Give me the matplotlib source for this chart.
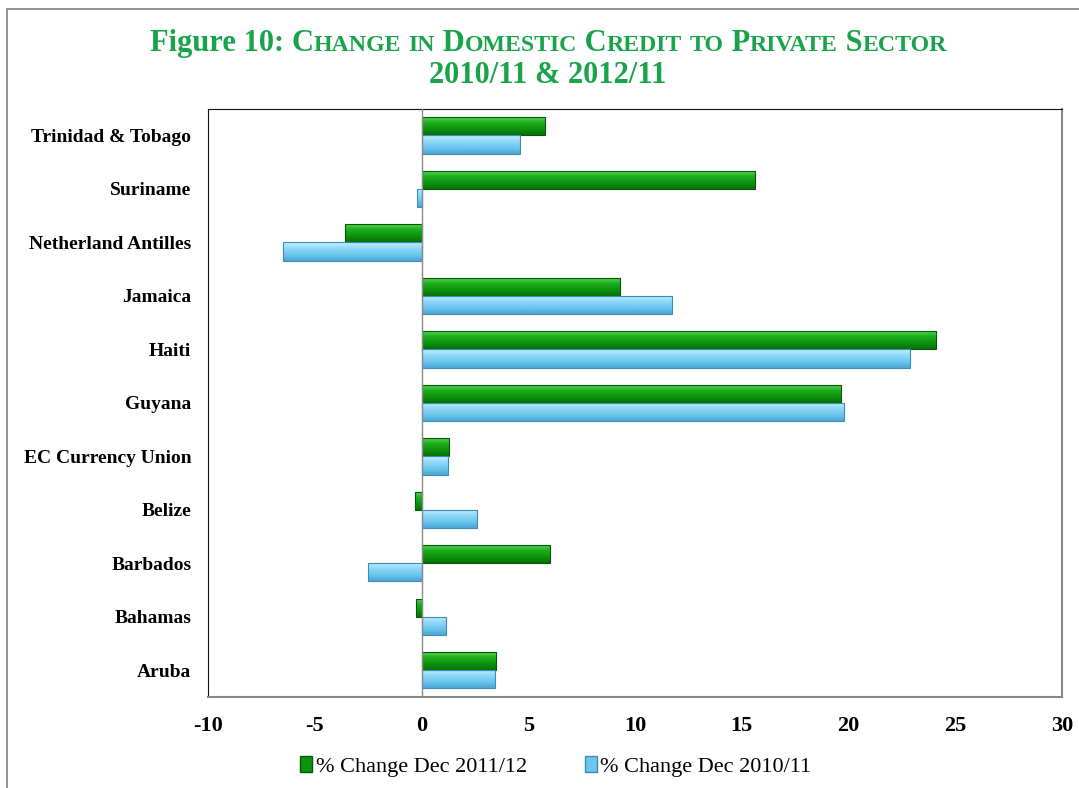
import matplotlib.pyplot as plt
import numpy as np
from matplotlib.patches import Rectangle
from matplotlib.colors import LinearSegmentedColormap

countries = ['Aruba', 'Bahamas', 'Barbados', 'Belize', 'EC Currency Union',
             'Guyana', 'Haiti', 'Jamaica', 'Netherland Antilles', 'Suriname',
             'Trinidad & Tobago']
chg_2011_12 = [3.5, -0.25, 6.0, -0.3, 1.3, 19.65, 24.1, 9.3, -3.6, 15.6, 5.8]
chg_2010_11 = [3.45, 1.15, -2.5, 2.6, 1.25, 19.8, 22.9, 11.75, -6.5, -0.2, 4.6]
xticks = [-10, -5, 0, 5, 10, 15, 20, 25, 30]

GREEN = ['#5fd85f', '#1fae1f', '#0c940c', '#077207']
BLUE = ['#c4f0ff', '#8fd8f8', '#6cc6ee', '#4ea6d2']
FONT = 'Liberation Serif'


def gradient_bar(ax, y, w, h, stops, edge):
    # vertical shading, light on top, dark on bottom
    x0, x1 = min(0, w), max(0, w)
    t = np.linspace(0, 1, 40)
    cmap = LinearSegmentedColormap.from_list('g', stops)
    img = ax.imshow(t[:, None], cmap=cmap, aspect='auto',
                    extent=(x0, x1, y - h / 2, y + h / 2), origin='upper',
                    zorder=2, interpolation='bilinear')
    r = Rectangle((x0, y - h / 2), x1 - x0, h, facecolor='none',
                  edgecolor=edge, lw=0.8, zorder=3)
    ax.add_patch(r)
    img.set_clip_path(r)


def small_caps(fig, words, x, y, size, color):
    # draw title with Word-style small capitals, centred at x
    runs = []
    for w, plain in words:
        if plain:
            runs.append((w, size))
        else:
            out = ''
            cur = None
            for ch in w:
                big = ch.isupper() or not ch.isalpha()
                s = size if big else size * 0.78
                if cur is None or s == cur:
                    out += ch.upper()
                else:
                    runs.append((out, cur))
                    out = ch.upper()
                cur = s
            if out:
                runs.append((out, cur))
    r = fig.canvas.get_renderer()
    texts = []
    widths = []
    for s, sz in runs:
        t = fig.text(0, y, s, fontsize=sz, color=color, fontweight='bold',
                     family=FONT, va='baseline', ha='left')
        bb = t.get_window_extent(renderer=r)
        texts.append(t)
        widths.append(bb.width / fig.bbox.width)
    total = sum(widths)
    cx = x - total / 2
    for t, w in zip(texts, widths):
        t.set_x(cx)
        cx += w


fig = plt.figure(figsize=(10.79, 7.88), dpi=100)
ax = fig.add_axes([0.1928, 0.1155, 0.7915, 0.7465])

y = np.arange(len(countries))
h = 0.34
for i in range(len(countries)):
    gradient_bar(ax, y[i] + h / 2, chg_2011_12[i], h, GREEN, '#055805')
    gradient_bar(ax, y[i] - h / 2, chg_2010_11[i], h, BLUE, '#3c8cb8')

ax.axvline(0, color='#8a8a8a', lw=1, zorder=4)
ax.set_xlim(-10, 30)
ax.set_ylim(-0.5, len(countries) - 0.5)
ax.set_xticks(xticks)
ax.set_xticklabels([str(v) for v in xticks], family=FONT,
                   fontsize=16, fontweight='bold')
ax.set_yticks(y)
ax.set_yticklabels(countries, family=FONT, fontsize=14, fontweight='bold')
ax.tick_params(length=0, pad=14)
ax.tick_params(axis='y', pad=12)
for side in ['top', 'left']:
    ax.spines[side].set_color('#111111')
for side in ['right', 'bottom']:
    ax.spines[side].set_color('#888888')
    ax.spines[side].set_linewidth(1.5)

# legend
handles = [Rectangle((0, 0), 1, 1, facecolor=GREEN[2], edgecolor='#055805'),
           Rectangle((0, 0), 1, 1, facecolor=BLUE[2], edgecolor='#3c8cb8')]
fig.legend(handles, ['% Change Dec 2011/12', '% Change Dec 2010/11'],
           loc='center', bbox_to_anchor=(0.515, 0.027), ncol=2, frameon=False,
           prop={'family': FONT, 'size': 16}, handlelength=0.55,
           handleheight=0.7, handletextpad=0.15, columnspacing=2.6)

# outer frame
fig.add_artist(Rectangle((7 / 1079, -0.01), 1.1, 1 - 9 / 788 + 0.01,
                         transform=fig.transFigure, fill=False,
                         edgecolor='#808080', lw=1.2))

green_title = '#19a34a'
small_caps(fig, [('Figure 10: ', True), ('Change in Domestic Credit to Private Sector', False)],
           0.508, 1 - 51 / 788, 22, green_title)
small_caps(fig, [('2010/11 & 2012/11', True)], 0.508, 1 - 83 / 788, 22, green_title)

fig.savefig('out.png', dpi=100)
